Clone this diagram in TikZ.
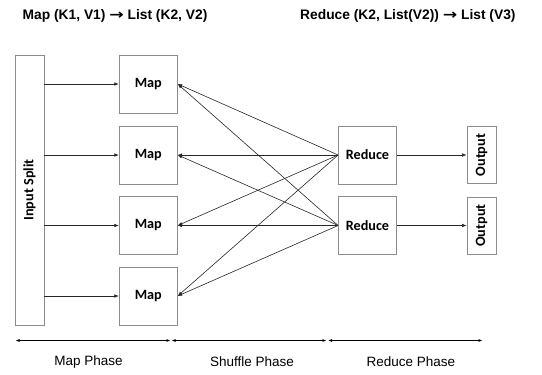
\documentclass[tikz,border=0pt]{standalone}
\usepackage{fontspec}
\setmainfont{Liberation Sans}
\newfontfamily\boxfont{Carlito}
\newfontfamily\arrowfont{DejaVu Sans}
\newcommand{\rarr}{{\arrowfont\bfseries\scalebox{1.25}[1]{→}}}
\usetikzlibrary{arrows.meta}
\begin{document}
\begin{tikzpicture}[x=1pt,y=-1pt,
  box/.style={draw=black!45,line width=0.8pt,inner sep=0pt,font=\boxfont\bfseries\fontsize{14.2}{16}\selectfont},
  conn/.style={draw=black!85,line width=0.6pt,-{Latex[length=4.5pt,width=3.5pt]}},
  phase/.style={draw=black,line width=1.1pt,{Latex[length=4pt,width=3pt]}-{Latex[length=4pt,width=3pt]}},
  lbl/.style={font=\fontsize{13.5}{16}\selectfont},
  ttl/.style={font=\bfseries\fontsize{13.8}{16}\selectfont,anchor=west,inner sep=0pt}]
\useasboundingbox (0,0) rectangle (542,375);
% titles
\node[ttl] (t1) at (22.5,16) {Map (K1, V1) \rarr{} List (K2, V2)};
\node[ttl] (t2) at (300,16) {Reduce (K2, List(V2)) \rarr{} List (V3)};
% boxes
\node[box,minimum width=29pt,minimum height=270pt] (in) at (29.5,190) {\rotatebox{90}{Input Split}};
\foreach \i/\y in {1/84,2/155,3/225.5,4/296}{
  \node[box,minimum width=58pt,minimum height=58pt] (m\i) at (148.3,\y) {Map};
}
\foreach \i/\y in {1/155,2/225.5}{
  \node[box,minimum width=58pt,minimum height=58pt] (r\i) at (367.5,\y) {Reduce};
  \node[box,minimum width=29pt,minimum height=57pt] (o\i) at (481.5,\y) {\rotatebox{90}{Output}};
}
% input -> map
\foreach \i in {1,...,4}{
  \draw[conn] (in.east |- m\i.west) -- (m\i.west);
}
% shuffle
\foreach \r in {1,2}{
  \foreach \i in {1,...,4}{
    \draw[conn] (r\r.west) -- (m\i.east);
  }
  \draw[conn] (r\r.east) -- (o\r.west);
}
% phases
\coordinate (p0) at (15.5,340.5);
\coordinate (p1) at (170.5,340.5);
\coordinate (p1b) at (171.5,340.5);
\coordinate (p2) at (326.5,340.5);
\coordinate (p2b) at (328,340.5);
\coordinate (p3) at (482.5,340.5);
\draw[phase] (p0) -- (p1);
\draw[phase] (p1b) -- (p2);
\draw[phase] (p2b) -- (p3);
\node[lbl] (l1) at (88.5,362.5) {Map Phase};
\node[lbl] (l2) at (252,362) {Shuffle Phase};
\node[lbl] (l3) at (411,361.5) {Reduce Phase};
\end{tikzpicture}
\end{document}
